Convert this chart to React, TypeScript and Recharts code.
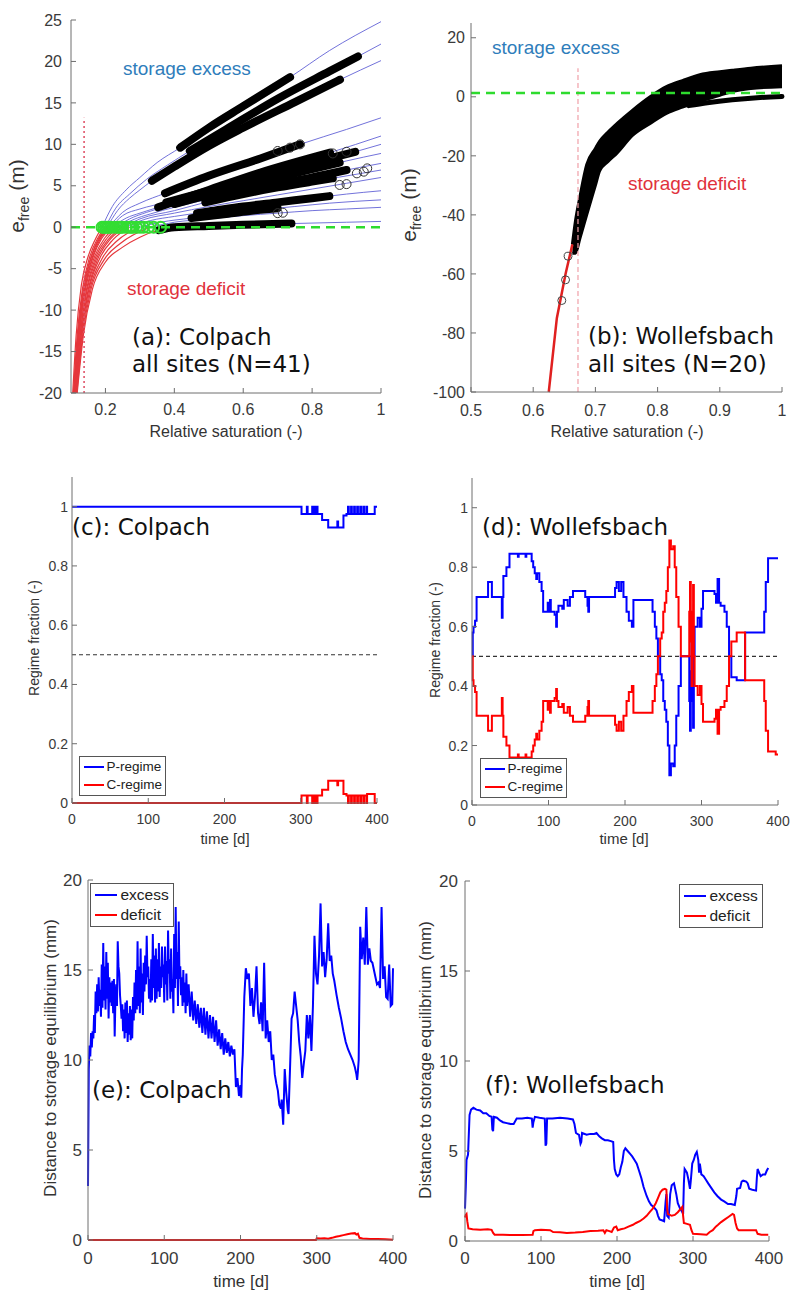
import React from 'react';
import { ComposedChart, Line, Scatter, Area, XAxis, YAxis } from 'recharts';

type Pt = [number, number];
const xy = (pts: Pt[]) => pts.map(([x, y]) => ({ x, y }));

// ---------------- Panel (a): Colpach retention-type curves ----------------
const colpachCurves: Pt[][] = [
  [[0.105,-20],[0.115,-13],[0.13,-7],[0.15,-3.5],[0.17,-1.5],[0.19,0],[0.22,2.5],[0.26,4.5],[0.3,6],[0.35,7.8],[0.417,9.6],[0.5,12],[0.6,14.6],[0.736,18.1],[0.85,21.3],[1,24.8]],
  [[0.107,-20],[0.118,-13],[0.133,-7.5],[0.155,-3.5],[0.178,-1.3],[0.2,0],[0.23,2.3],[0.27,4],[0.32,5.8],[0.38,7.5],[0.445,9.2],[0.55,11.8],[0.7,15.5],[0.85,18.8],[0.933,20.6],[1,22.1]],
  [[0.108,-20],[0.12,-13],[0.135,-7.5],[0.158,-3.6],[0.18,-1.4],[0.205,0],[0.235,2],[0.27,3.5],[0.3,4.5],[0.335,5.6],[0.4,7.3],[0.5,9.8],[0.6,12],[0.75,15.1],[0.881,17.8],[1,20.1]],
  [[0.109,-20],[0.121,-13],[0.137,-7.5],[0.16,-3.5],[0.185,-1.2],[0.21,0],[0.25,1.8],[0.3,2.9],[0.373,4.1],[0.5,6.2],[0.65,8.3],[0.765,10],[0.9,11.8],[1,13.2]],
  [[0.11,-20],[0.123,-13],[0.14,-7.5],[0.165,-3.5],[0.19,-1.3],[0.22,0],[0.26,1.1],[0.3,1.7],[0.353,2.4],[0.5,4.5],[0.65,6.6],[0.852,9],[1,11]],
  [[0.11,-20],[0.122,-13],[0.139,-7.5],[0.163,-3.5],[0.188,-1.2],[0.215,0],[0.25,1.4],[0.3,2.2],[0.377,3],[0.5,4.4],[0.7,6.7],[0.925,9.1],[1,10]],
  [[0.111,-20],[0.124,-13],[0.142,-7.5],[0.168,-3.6],[0.198,-1.3],[0.23,0],[0.27,1],[0.32,1.8],[0.4,2.8],[0.5,3.9],[0.6,5],[0.7,6],[0.8,7],[0.9,8],[1,8.9]],
  [[0.112,-20],[0.126,-13],[0.145,-7.5],[0.172,-3.6],[0.205,-1.3],[0.24,0],[0.28,0.9],[0.33,1.6],[0.4,2.4],[0.5,3.4],[0.6,4.3],[0.7,5.2],[0.8,6],[0.9,6.9],[1,7.7]],
  [[0.113,-20],[0.127,-13],[0.147,-7.5],[0.176,-3.6],[0.21,-1.4],[0.25,0],[0.3,1],[0.4,2],[0.5,3.1],[0.6,4],[0.7,4.8],[0.8,5.5],[0.93,6.4],[1,6.9]],
  [[0.114,-20],[0.129,-13],[0.15,-7.5],[0.18,-3.6],[0.215,-1.4],[0.26,0],[0.31,0.9],[0.4,1.7],[0.5,2.5],[0.6,3.2],[0.7,3.9],[0.8,4.6],[0.9,5.3],[1,6]],
  [[0.115,-20],[0.13,-13],[0.152,-7.5],[0.184,-3.7],[0.222,-1.5],[0.27,0],[0.33,0.8],[0.4,1.3],[0.5,1.9],[0.6,2.5],[0.7,3],[0.8,3.5],[0.9,4],[1,4.4]],
  [[0.116,-20],[0.132,-13],[0.155,-7.5],[0.19,-3.8],[0.235,-1.6],[0.3,0],[0.36,0.6],[0.45,1.1],[0.55,1.6],[0.65,2.1],[0.75,2.5],[0.85,2.9],[1,3.3]],
  [[0.117,-20],[0.134,-13],[0.158,-7.5],[0.195,-4],[0.245,-1.9],[0.33,0],[0.4,0.6],[0.5,1],[0.6,1.4],[0.7,1.7],[0.8,2],[0.9,2.2],[1,2.4]],
  [[0.118,-20],[0.136,-13],[0.162,-7.5],[0.2,-4.2],[0.25,-2.4],[0.3,-1.2],[0.35,-0.4],[0.4,0],[0.5,0.15],[0.6,0.3],[0.75,0.45],[0.9,0.6],[1,0.7]],
];
const colpachBands: Pt[][] = [
  [[0.417,9.6],[0.5,12],[0.6,14.6],[0.736,18.1]],
  [[0.445,9.2],[0.55,11.8],[0.7,15.5],[0.85,18.8],[0.933,20.6]],
  [[0.335,5.6],[0.4,7.3],[0.5,9.8],[0.6,12],[0.75,15.1],[0.881,17.8]],
  [[0.373,4.1],[0.5,6.2],[0.65,8.3],[0.765,10]],
  [[0.353,2.4],[0.5,4.5],[0.65,6.6],[0.852,9]],
  [[0.377,3],[0.5,4.4],[0.7,6.7],[0.925,9.1]],
  [[0.4,2.8],[0.5,3.9],[0.6,5],[0.7,6],[0.8,7],[0.88,7.8]],
  [[0.5,3.4],[0.6,4.3],[0.7,5.2],[0.8,6],[0.9,6.9]],
  [[0.49,3],[0.6,4],[0.7,4.8],[0.8,5.5],[0.86,5.9]],
  [[0.466,1.7],[0.5,1.9],[0.6,2.5],[0.7,3],[0.8,3.5],[0.85,3.75]],
  [[0.45,1.1],[0.55,1.6],[0.65,2.1],[0.7,2.3]],
  [[0.355,-0.35],[0.4,0],[0.5,0.15],[0.6,0.3],[0.74,0.45]],
];
const colpachOpenCircles: Pt[] = [[0.7,9.2],[0.736,9.6],[0.765,10],[0.96,7.1],[0.9,5.2],[0.88,5.1],[0.7,1.7],[0.715,1.75],[0.86,8.9],[0.9,9.1],[0.93,6.5],[0.95,6.7]];
const colpachGreenCircles: Pt[] = [[0.19,0],[0.195,0],[0.2,0],[0.205,0],[0.21,0],[0.215,0],[0.225,0],[0.235,0],[0.24,0],[0.245,0],[0.25,0],[0.26,0],[0.27,0],[0.275,0],[0.28,0],[0.29,0],[0.3,0],[0.31,0],[0.325,0],[0.34,0],[0.36,0]];
const colpachThreshold: Pt[] = [[0.138,-20],[0.138,13.2]];
const colpachZero: Pt[] = [[0.1,0],[1,0]];

// ---------------- Panel (b): Wollefsbach ----------------
const wollBlobX = [0.663,0.668,0.675,0.686,0.7,0.707,0.72,0.735,0.76,0.788,0.815,0.84,0.868,0.9,0.92,0.95,1.0];
const wollBlobHi = [-50,-42,-34,-23,-17.5,-15,-12,-9,-4.5,0,3.5,5.5,7.5,8.5,9,9.7,10.5];
const wollBlobLo = [-53,-53,-48,-40,-30,-25,-22,-19,-13,-9,-5.5,-3.5,-1.5,0.5,1.8,2.8,3.4];
const wollLowerBand: Pt[] = [[0.85,-3],[0.88,-2],[0.92,-1],[0.96,-0.3],[1.0,0.1]];
const wollRedLine: Pt[] = [[0.625,-100],[0.638,-75],[0.652,-60],[0.663,-50]];
const wollOpenCircles: Pt[] = [[0.656,-54],[0.652,-62],[0.646,-69]];
const wollThreshold: Pt[] = [[0.672,-100],[0.672,9.7]];
const wollZero: Pt[] = [[0.5,1.3],[1,1.3]];

// ---------------- Panel (c): Colpach regime fraction ----------------
const colpachP: Pt[] = [[0,1],[300,1],[301,0.975],[307,0.975],[308,1],[309,0.975],[315,1],[316,0.975],[318,1],[319,0.975],[321,1],[322,0.975],[328,0.955],[336,0.93],[347,0.93],[348,0.95],[349,0.93],[354,0.93],[356,0.97],[360,0.975],[362,1],[363,0.975],[366,1],[367,0.975],[370,1],[371,0.975],[374,1],[375,0.975],[378,1],[379,0.975],[382,1],[383,0.975],[386,1],[387,0.975],[396,0.975],[397,1],[400,1]];
const colpachC: Pt[] = [[0,0],[300,0],[301,0.025],[307,0.025],[308,0],[309,0.025],[315,0],[316,0.025],[318,0],[319,0.025],[321,0],[322,0.025],[328,0.045],[336,0.075],[347,0.075],[348,0.06],[349,0.075],[354,0.075],[356,0.03],[360,0.025],[362,0],[363,0.025],[366,0],[367,0.025],[370,0],[371,0.025],[374,0],[375,0.025],[378,0],[379,0.025],[382,0],[383,0.025],[386,0],[387,0.03],[396,0.03],[397,0],[400,0]];

// ---------------- Panel (d): Wollefsbach regime fraction ----------------
const wollP: Pt[] = [[0,0.5],[1,0.58],[2,0.6],[4,0.62],[6,0.7],[19,0.7],[21,0.75],[25,0.75],[26,0.7],[38,0.7],[39,0.63],[40,0.7],[41,0.77],[45,0.8],[49,0.845],[60,0.835],[61,0.845],[70,0.835],[71,0.845],[78,0.82],[80,0.8],[82,0.78],[84,0.76],[85,0.78],[88,0.75],[91,0.72],[93,0.65],[99,0.68],[100,0.65],[102,0.69],[103,0.65],[108,0.64],[110,0.6],[111,0.65],[113,0.67],[118,0.66],[120,0.69],[125,0.67],[128,0.7],[132,0.72],[148,0.7],[151,0.67],[152,0.65],[153,0.7],[187,0.73],[189,0.75],[192,0.72],[195,0.75],[198,0.7],[202,0.65],[205,0.62],[209,0.6],[211,0.69],[233,0.69],[236,0.65],[239,0.6],[241,0.56],[243,0.5],[246,0.44],[248,0.42],[250,0.35],[252,0.32],[254,0.28],[256,0.2],[258,0.1],[260,0.14],[263,0.13],[265,0.2],[267,0.3],[270,0.4],[273,0.5],[283,0.5],[284,0.35],[285,0.25],[286,0.45],[287,0.6],[288,0.35],[289,0.26],[290,0.5],[291,0.6],[295,0.63],[298,0.6],[300,0.66],[302,0.72],[317,0.71],[319,0.68],[321,0.76],[323,0.68],[325,0.67],[330,0.65],[333,0.6],[336,0.5],[339,0.43],[346,0.42],[357,0.58],[380,0.58],[382,0.65],[384,0.75],[387,0.83],[397,0.83],[400,0.83]];
const wollC: Pt[] = [[0,0.5],[1,0.42],[2,0.4],[4,0.38],[6,0.3],[19,0.3],[21,0.25],[25,0.25],[26,0.3],[38,0.3],[39,0.36],[40,0.3],[41,0.23],[45,0.2],[49,0.16],[60,0.17],[61,0.16],[70,0.17],[71,0.16],[78,0.18],[80,0.2],[82,0.22],[84,0.24],[85,0.22],[88,0.25],[91,0.28],[93,0.35],[99,0.32],[100,0.35],[102,0.31],[103,0.35],[108,0.36],[110,0.39],[111,0.35],[113,0.33],[118,0.34],[120,0.31],[125,0.33],[128,0.3],[132,0.28],[148,0.3],[151,0.33],[152,0.35],[153,0.3],[187,0.27],[189,0.25],[192,0.28],[195,0.25],[198,0.3],[202,0.35],[205,0.38],[209,0.4],[211,0.31],[233,0.31],[236,0.35],[239,0.4],[241,0.44],[243,0.5],[246,0.56],[248,0.58],[250,0.65],[252,0.68],[254,0.72],[256,0.8],[258,0.89],[260,0.86],[263,0.87],[265,0.8],[267,0.7],[270,0.6],[273,0.5],[283,0.5],[284,0.65],[285,0.75],[286,0.55],[287,0.4],[288,0.65],[289,0.74],[290,0.5],[291,0.4],[295,0.37],[298,0.4],[300,0.34],[302,0.28],[317,0.29],[319,0.32],[321,0.24],[323,0.32],[325,0.33],[330,0.35],[333,0.4],[336,0.5],[339,0.55],[346,0.58],[357,0.42],[380,0.42],[382,0.35],[384,0.25],[387,0.18],[397,0.17],[400,0.17]];
const halfLine: Pt[] = [[0,0.5],[400,0.5]];

// ---------------- Panel (e): Colpach distance to equilibrium ----------------
const colpachExcess: Pt[] = [[0,3],[1,9.5],[2,10.8],[3,10.2],[4,11.5],[5,10.7],[6,11.6],[7,11.2],[8,12.5],[9,11.5],[10,13.8],[11,12.6],[12,14.2],[13,12.7],[14,14.6],[15,13],[16,13.9],[17,12.4],[18,15.3],[19,12.9],[20,16.5],[21,13.3],[22,15.2],[23,12.8],[24,16],[25,13.4],[26,15.4],[27,12.3],[28,14.6],[29,13.2],[30,14.3],[31,13],[32,14.4],[33,12.6],[34,14.5],[35,11.3],[36,13.5],[37,14.2],[38,13],[39,16.6],[40,15.2],[41,14.8],[42,13.6],[43,13],[44,12.3],[45,13.1],[46,11.6],[47,12.8],[48,11.2],[49,13.2],[50,11.5],[51,13.3],[52,11],[53,12.6],[54,11.4],[55,13],[56,11.1],[57,12.8],[58,11.2],[59,13.5],[60,12.2],[61,14.3],[62,12.6],[63,15],[64,12.8],[65,16.6],[66,13],[67,15.2],[68,12.6],[69,16.2],[70,13.2],[71,14.8],[72,12.5],[73,15.4],[74,13.8],[75,15.8],[76,14.2],[77,16.9],[78,14.6],[79,15.2],[80,13.4],[81,14.5],[82,13.2],[83,15.6],[84,13.3],[85,17],[86,14],[87,15.8],[88,13.2],[89,16.2],[90,13.4],[91,15.6],[92,13.8],[93,16.5],[94,13.5],[95,15.2],[96,14],[97,16.3],[98,14.6],[99,15.3],[100,13.2],[101,16.3],[102,14.2],[103,15.5],[104,13.3],[105,17.2],[106,14.8],[107,15.6],[108,13.4],[109,16.2],[110,13.8],[111,14.5],[112,12.6],[113,17],[114,14],[115,18.5],[116,14.5],[117,16],[118,13],[119,17.7],[120,14.5],[121,15.2],[122,13.6],[123,14.6],[124,13],[125,15],[126,13.2],[127,14.3],[128,12.6],[129,14.8],[130,13],[132,14.2],[134,12.4],[136,13.8],[138,12.2],[140,13.3],[142,12],[144,13.1],[146,11.8],[148,12.9],[150,11.5],[152,12.9],[154,11.4],[156,12.7],[158,11.2],[160,12.5],[162,11.2],[164,12.4],[166,11],[168,12.2],[170,10.8],[172,11.7],[174,10.6],[176,11.5],[178,10.3],[180,11.2],[182,10.4],[184,11],[186,10.2],[188,10.8],[190,10.3],[192,10.6],[194,8.5],[196,9],[198,8],[200,8.6],[201,7.9],[202,9.5],[203,10.3],[205,13.5],[207,15.1],[209,14.5],[211,14.8],[213,13],[215,14],[217,12.4],[219,13.5],[221,15.2],[223,12.6],[225,12],[227,13.2],[229,11.6],[231,15.4],[233,11.2],[235,12.2],[237,11],[239,11.6],[241,10],[243,10.3],[245,9.2],[247,8.7],[249,8.3],[251,7.5],[253,7.3],[254,7.8],[256,6.4],[258,9.5],[260,8.2],[262,7.2],[263,7],[265,9.6],[267,12.3],[269,12.6],[271,13.8],[273,13],[275,12.2],[277,11],[279,10.2],[281,9],[283,9.8],[285,10.5],[287,12.5],[289,11.2],[291,12.5],[293,10.5],[295,13],[297,16.9],[299,14.8],[301,14.2],[303,15.8],[305,18.7],[307,15.2],[309,16],[311,14.6],[313,15.6],[315,17.6],[317,15.5],[319,15.8],[321,14.8],[323,14.4],[326,13.6],[329,12.9],[332,12.3],[335,11.6],[338,11],[341,10.6],[344,10.3],[347,10],[350,9.6],[352,9.2],[353,8.9],[354,9.4],[355,10],[357,17.4],[359,15.6],[361,16.8],[363,15.3],[365,18.5],[367,15.3],[369,16.2],[371,15.5],[373,15.4],[375,15],[377,14.6],[379,14.2],[381,14.3],[383,14],[385,18.5],[387,14.5],[389,15.2],[391,13.5],[393,13.4],[395,15.3],[397,13],[399,13.1],[400,15.1]];
const colpachDeficit: Pt[] = [[0,0],[299,0],[300,0.1],[305,0.08],[310,0.1],[315,0.07],[320,0.12],[325,0.18],[330,0.22],[335,0.27],[340,0.32],[345,0.36],[350,0.38],[352,0.3],[354,0.35],[356,0.12],[360,0.08],[370,0.05],[380,0.06],[390,0.04],[400,0.02]];

// ---------------- Panel (f): Wollefsbach distance to equilibrium ----------------
const wollExcess: Pt[] = [[0,1.8],[1,3],[2,4.5],[4,4.8],[6,7],[8,7.3],[11,7.4],[15,7.3],[20,7.25],[24,7.1],[28,7.1],[32,6.95],[35,6.9],[36,6.2],[37,6.1],[38,6.9],[42,6.85],[46,6.7],[50,6.6],[55,6.55],[60,6.5],[64,6.5],[68,6.8],[75,6.8],[82,6.85],[88,6.8],[89,6.3],[90,6.6],[92,6.9],[98,6.85],[105,6.8],[106,5.3],[107,5.4],[108,6.8],[115,6.8],[125,6.85],[135,6.8],[142,6.75],[144,6.5],[146,6],[150,5.9],[152,5.4],[153,5.5],[154,6],[160,5.9],[165,5.95],[170,5.95],[173,6],[177,5.8],[180,5.7],[184,5.6],[188,5.6],[192,5.55],[195,5.5],[196,4.5],[197,4],[199,3.7],[201,3.6],[203,3.7],[205,4.1],[207,4.4],[209,5],[211,5.15],[214,5],[217,4.85],[220,4.7],[223,4.5],[226,4.3],[229,3.9],[232,3.5],[235,3],[239,2.5],[242,2.2],[245,2],[248,1.9],[252,1.7],[254,1.4],[256,1.2],[259,1.15],[262,1.1],[264,2.2],[265,2.6],[266,1.4],[268,1.3],[270,2.6],[272,3.1],[275,3.2],[278,2.6],[280,2.1],[283,1.8],[286,1.6],[287,1.5],[288,3.2],[289,4],[292,3.8],[294,3.4],[296,2.9],[297,3.3],[299,4.3],[301,4.5],[303,4.8],[305,4.95],[307,4.5],[308,3.8],[309,4.3],[311,3.7],[314,3.6],[317,3.4],[320,3.2],[324,2.95],[328,2.7],[332,2.5],[337,2.3],[341,2.2],[346,2.05],[350,2.05],[355,2],[357,2.5],[358,2.9],[362,2.95],[364,3.3],[366,3.35],[370,3.3],[372,3.2],[374,2.9],[378,2.85],[383,2.8],[384,3.5],[385,4],[387,3.8],[389,3.6],[392,3.7],[395,3.7],[397,3.9],[399,4.05]];
const wollDeficit: Pt[] = [[0,1.3],[1,1.45],[2,1.5],[3,1.1],[4.5,0.7],[10,0.65],[20,0.62],[30,0.65],[35,0.62],[37,0.45],[39,0.35],[50,0.35],[60,0.33],[75,0.33],[89,0.35],[90,0.55],[92,0.6],[100,0.62],[112,0.6],[116,0.5],[125,0.48],[134,0.45],[145,0.47],[155,0.5],[165,0.55],[175,0.57],[182,0.6],[184,0.45],[186,0.6],[190,0.55],[193,0.5],[196,0.75],[199,0.8],[201,0.6],[205,0.65],[210,0.7],[215,0.8],[221,0.9],[225,1],[230,1.1],[235,1.25],[239,1.4],[243,1.6],[247,1.8],[251,2.1],[254,2.4],[257,2.7],[260,2.85],[263,2.9],[265,2.85],[266,1.8],[267,1.5],[272,1.4],[276,1.45],[280,1.6],[284,1.8],[286,1.9],[287,1.4],[288,1],[292,0.95],[296,0.9],[298,0.6],[300,0.4],[310,0.38],[318,0.35],[322,0.5],[326,0.6],[330,0.8],[333,0.9],[337,1.05],[342,1.2],[347,1.35],[352,1.5],[354,1.45],[356,1],[358,0.7],[360,0.6],[370,0.6],[383,0.6],[385,0.4],[390,0.35],[399,0.35]];

// ---------------- Tick labels ----------------
const satTicksA = [0.2, 0.4, 0.6, 0.8, 1];
const efreeTicksA = [-20, -15, -10, -5, 0, 5, 10, 15, 20, 25];
const satTicksB = [0.5, 0.6, 0.7, 0.8, 0.9, 1];
const efreeTicksB = [-100, -80, -60, -40, -20, 0, 20];
const timeTicks = [0, 100, 200, 300, 400];
const fracTicks = [0, 0.2, 0.4, 0.6, 0.8, 1];
const fracMinor = [0, 0.1, 0.2, 0.3, 0.4, 0.5, 0.6, 0.7, 0.8, 0.9, 1, 1.1];
const distTicks = [0, 5, 10, 15, 20];
const distMinor = [0,1,2,3,4,5,6,7,8,9,10,11,12,13,14,15,16,17,18,19,20];

// ---------------- layout helpers ----------------
const YW = 60, MT = 10, MR = 22, XH = 40;
const AX = '#6e6e6e';
const TICK_FONT = 'Liberation Sans, Arial, sans-serif';
const LABEL_FONT = 'DejaVu Sans, Verdana, sans-serif';

const fmtDec = (v: number) => (v === 0 ? '0' : v === 1 ? '1' : Number.isInteger(v) ? String(v) : v.toFixed(1));

type Box = { x0: number; y0: number; x1: number; y1: number };
type AxisCfg = {
  xDomain: [number, number]; yDomain: [number, number];
  xTicks: number[]; yTicks: number[]; yMinor?: number[];
  fs: number; xMargin: number; yMargin: number;
};

function axes(c: AxisCfg) {
  const tickStyle = { fill: '#3a3a3a', fontSize: c.fs, fontFamily: TICK_FONT };
  return [
    <XAxis key="xb" type="number" dataKey="x" domain={c.xDomain} ticks={c.xTicks} interval={0}
      tickSize={-5} tickMargin={c.xMargin} tick={tickStyle} tickFormatter={fmtDec}
      axisLine={{ stroke: AX }} tickLine={{ stroke: AX }} height={XH} />,
    <YAxis key="yl" type="number" dataKey="y" domain={c.yDomain} ticks={c.yTicks} interval={0}
      tickSize={-5} tickMargin={c.yMargin} tick={tickStyle} tickFormatter={fmtDec}
      axisLine={{ stroke: AX }} tickLine={{ stroke: AX }} width={YW} />,
    <XAxis key="xt" xAxisId="t" orientation="top" type="number" domain={c.xDomain} ticks={c.xTicks} interval={0} allowDataOverflow
      tickSize={-5} tick={false} axisLine={{ stroke: AX }} tickLine={{ stroke: AX }} height={0} />,
    <YAxis key="yr" yAxisId="r" orientation="right" type="number" domain={c.yDomain} ticks={c.yMinor || c.yTicks} interval={0} allowDataOverflow
      tickSize={c.yMinor ? -3 : -5} tick={false} axisLine={{ stroke: AX }} tickLine={{ stroke: AX }} width={0} />,
  ];
}

function Panel({ box, cfg, children }: { box: Box; cfg: AxisCfg; children: React.ReactNode }) {
  const width = box.x1 - box.x0 + YW + MR;
  const height = box.y1 - box.y0 + MT + XH;
  return (
    <div style={{ position: 'absolute', left: box.x0 - YW, top: box.y0 - MT }}>
      <ComposedChart width={width} height={height} margin={{ top: MT, right: MR, left: 0, bottom: 0 }}>
        {axes(cfg)}
        {children}
      </ComposedChart>
    </div>
  );
}

function Txt({ x, y, fs, color, font, children }: { x: number; y: number; fs: number; color: string; font: string; children: React.ReactNode }) {
  return (
    <div style={{ position: 'absolute', left: x, top: y, fontSize: fs, color, fontFamily: font, lineHeight: 1, whiteSpace: 'nowrap' }}>
      {children}
    </div>
  );
}
function HLabel({ cx, cy, fs, children }: { cx: number; cy: number; fs: number; children: React.ReactNode }) {
  return (
    <div style={{ position: 'absolute', left: cx, top: cy, transform: 'translate(-50%,-50%)', fontSize: fs, color: '#333', fontFamily: TICK_FONT, lineHeight: 1, whiteSpace: 'nowrap' }}>
      {children}
    </div>
  );
}
function VLabel({ cx, cy, fs, children }: { cx: number; cy: number; fs: number; children: React.ReactNode }) {
  return (
    <div style={{ position: 'absolute', left: cx, top: cy, transform: 'translate(-50%,-50%) rotate(-90deg)', fontSize: fs, color: '#333', fontFamily: TICK_FONT, lineHeight: 1, whiteSpace: 'nowrap' }}>
      {children}
    </div>
  );
}
function LegendBox({ x, y, w, h, fs, items }: { x: number; y: number; w: number; h: number; fs: number; items: { label: string; color: string }[] }) {
  return (
    <div style={{ position: 'absolute', left: x, top: y, width: w, height: h, border: '1px solid #555', background: '#fff', boxSizing: 'border-box', display: 'flex', flexDirection: 'column', justifyContent: 'space-around', padding: '1px 0' }}>
      {items.map((it) => (
        <div key={it.label} style={{ display: 'flex', alignItems: 'center', fontSize: fs, fontFamily: TICK_FONT, color: '#222', lineHeight: 1 }}>
          <span style={{ display: 'inline-block', width: fs * 1.45, height: 2, background: it.color, marginLeft: 4, marginRight: 3 }} />
          {it.label}
        </div>
      ))}
    </div>
  );
}

const openCircle = (stroke: string, r: number, sw: number) => (props: any) =>
  <circle cx={props.cx} cy={props.cy} r={r} fill="none" stroke={stroke} strokeWidth={sw} />;

export default function App() {
  const boxA: Box = { x0: 71, y0: 20, x1: 381, y1: 393 };
  const boxB: Box = { x0: 471, y0: 23, x1: 782, y1: 392 };
  const boxC: Box = { x0: 72, y0: 477, x1: 377, y1: 803 };
  const boxD: Box = { x0: 472, y0: 478, x1: 778, y1: 805 };
  const boxE: Box = { x0: 88, y0: 880, x1: 393, y1: 1240 };
  const boxF: Box = { x0: 465, y0: 881, x1: 769, y1: 1241 };

  const cfgA: AxisCfg = { xDomain: [0.1, 1], yDomain: [-20, 25], xTicks: satTicksA, yTicks: efreeTicksA, fs: 16, xMargin: 16, yMargin: 14 };
  const cfgB: AxisCfg = { xDomain: [0.5, 1], yDomain: [-100, 25], xTicks: satTicksB, yTicks: efreeTicksB, fs: 16, xMargin: 18, yMargin: 11 };
  const cfgC: AxisCfg = { xDomain: [0, 400], yDomain: [0, 1.1], xTicks: timeTicks, yTicks: fracTicks, yMinor: fracMinor, fs: 14, xMargin: 16, yMargin: 9 };
  const cfgE: AxisCfg = { xDomain: [0, 400], yDomain: [0, 20], xTicks: timeTicks, yTicks: distTicks, yMinor: distMinor, fs: 17, xMargin: 17, yMargin: 11 };
  const cfgF: AxisCfg = { ...cfgE, xMargin: 16, yMargin: 12 };

  const curveRed = '#e5373c';
  const curveBlue = '#6262d6';

  const blobData = wollBlobX.map((x, i) => ({ x, r: [wollBlobLo[i], wollBlobHi[i]] }));

  return (
    <div style={{ position: 'absolute', left: 0, top: 0, width: 792, height: 1292, background: '#fff', overflow: 'hidden' }}>
      {/* (a) */}
      <Panel box={boxA} cfg={cfgA}>
        {colpachCurves.map((c, i) => (
          <Line key={'ar' + i} data={xy(c.filter((p) => p[1] <= 0))} dataKey="y" type="monotone" stroke={curveRed} strokeWidth={1.2} dot={false} isAnimationActive={false} />
        ))}
        {colpachCurves.map((c, i) => (
          <Line key={'ab' + i} data={xy(c.filter((p) => p[1] >= 0))} dataKey="y" type="monotone" stroke={curveBlue} strokeWidth={0.9} dot={false} isAnimationActive={false} />
        ))}
        {colpachBands.map((b, i) => (
          <Line key={'abd' + i} data={xy(b)} dataKey="y" type="monotone" stroke="#000" strokeWidth={8} strokeLinecap="round" dot={false} isAnimationActive={false} />
        ))}
        <Scatter key="aoc" data={xy(colpachOpenCircles)} dataKey="y" shape={openCircle('#333', 4.5, 1)} isAnimationActive={false} />
        <Line key="athr" data={xy(colpachThreshold)} dataKey="y" type="linear" stroke="#e0556a" strokeWidth={1.6} strokeDasharray="2 3" dot={false} isAnimationActive={false} />
        <Line key="azero" data={xy(colpachZero)} dataKey="y" type="linear" stroke="#2edb2e" strokeWidth={2.5} strokeDasharray="9 6" dot={false} isAnimationActive={false} />
        <Scatter key="agc" data={xy(colpachGreenCircles)} dataKey="y" shape={openCircle('#33dd33', 5.5, 2)} isAnimationActive={false} />
      </Panel>

      {/* (b) */}
      <Panel box={boxB} cfg={cfgB}>
        <Area key="bblob" data={blobData} dataKey="r" type="monotone" stroke="#000" strokeWidth={3} fill="#000" fillOpacity={1} isAnimationActive={false} />
        <Line key="blow" data={xy(wollLowerBand)} dataKey="y" type="monotone" stroke="#000" strokeWidth={5} strokeLinecap="round" dot={false} isAnimationActive={false} />
        <Line key="bred" data={xy(wollRedLine)} dataKey="y" type="linear" stroke="#e02020" strokeWidth={2.5} dot={false} isAnimationActive={false} />
        <Scatter key="boc" data={xy(wollOpenCircles)} dataKey="y" shape={openCircle('#444', 4, 1)} isAnimationActive={false} />
        <Line key="bthr" data={xy(wollThreshold)} dataKey="y" type="linear" stroke="#f0a0a8" strokeWidth={1.2} strokeDasharray="5 3" dot={false} isAnimationActive={false} />
        <Line key="bzero" data={xy(wollZero)} dataKey="y" type="linear" stroke="#2edb2e" strokeWidth={2.5} strokeDasharray="9 6" dot={false} isAnimationActive={false} />
      </Panel>

      {/* (c) */}
      <Panel box={boxC} cfg={cfgC}>
        <Line key="chalf" data={xy(halfLine)} dataKey="y" type="linear" stroke="#333" strokeWidth={1.1} strokeDasharray="4 3" dot={false} isAnimationActive={false} />
        <Line key="cp" data={xy(colpachP)} dataKey="y" type="stepAfter" stroke="#0000ff" strokeWidth={2} dot={false} isAnimationActive={false} />
        <Line key="cc" data={xy(colpachC)} dataKey="y" type="stepAfter" stroke="#ff0000" strokeWidth={2} dot={false} isAnimationActive={false} />
      </Panel>

      {/* (d) */}
      <Panel box={boxD} cfg={cfgC}>
        <Line key="dhalf" data={xy(halfLine)} dataKey="y" type="linear" stroke="#333" strokeWidth={1.1} strokeDasharray="4 3" dot={false} isAnimationActive={false} />
        <Line key="dp" data={xy(wollP)} dataKey="y" type="stepAfter" stroke="#0000ff" strokeWidth={2} dot={false} isAnimationActive={false} />
        <Line key="dc" data={xy(wollC)} dataKey="y" type="stepAfter" stroke="#ff0000" strokeWidth={2} dot={false} isAnimationActive={false} />
      </Panel>

      {/* (e) */}
      <Panel box={boxE} cfg={cfgE}>
        <Line key="ee" data={xy(colpachExcess)} dataKey="y" type="linear" stroke="#0000ff" strokeWidth={2} dot={false} isAnimationActive={false} />
        <Line key="ed" data={xy(colpachDeficit)} dataKey="y" type="linear" stroke="#ff0000" strokeWidth={2} dot={false} isAnimationActive={false} />
      </Panel>

      {/* (f) */}
      <Panel box={boxF} cfg={cfgF}>
        <Line key="fe" data={xy(wollExcess)} dataKey="y" type="linear" stroke="#0000ff" strokeWidth={2} dot={false} isAnimationActive={false} />
        <Line key="fd" data={xy(wollDeficit)} dataKey="y" type="linear" stroke="#ff0000" strokeWidth={2} dot={false} isAnimationActive={false} />
      </Panel>

      {/* annotations (a) */}
      <Txt x={123} y={59} fs={19} color="#2f7dbb" font={TICK_FONT}>storage excess</Txt>
      <Txt x={127} y={279} fs={19} color="#e0323c" font={TICK_FONT}>storage deficit</Txt>
      <Txt x={132} y={326} fs={23} color="#111" font={LABEL_FONT}>(a): Colpach</Txt>
      <Txt x={132} y={353} fs={23} color="#111" font={LABEL_FONT}>all sites (N=41)</Txt>
      <VLabel cx={19} cy={196} fs={21}>e<sub style={{ fontSize: '68%' }}>free</sub> (m)</VLabel>
      <HLabel cx={226} cy={432} fs={16}>Relative saturation (-)</HLabel>

      {/* annotations (b) */}
      <Txt x={492} y={38} fs={19} color="#2f7dbb" font={TICK_FONT}>storage excess</Txt>
      <Txt x={628} y={174} fs={19} color="#e0323c" font={TICK_FONT}>storage deficit</Txt>
      <Txt x={588} y={325} fs={23} color="#111" font={LABEL_FONT}>(b): Wollefsbach</Txt>
      <Txt x={588} y={353} fs={23} color="#111" font={LABEL_FONT}>all sites (N=20)</Txt>
      <VLabel cx={411} cy={205} fs={21}>e<sub style={{ fontSize: '68%' }}>free</sub> (m)</VLabel>
      <HLabel cx={627} cy={432} fs={16}>Relative saturation (-)</HLabel>

      {/* annotations (c) */}
      <Txt x={72} y={516} fs={23} color="#111" font={LABEL_FONT}>(c): Colpach</Txt>
      <VLabel cx={34} cy={638} fs={14}>Regime fraction (-)</VLabel>
      <HLabel cx={225} cy={838} fs={15}>time [d]</HLabel>
      <LegendBox x={79} y={756} w={87} h={40} fs={13.5} items={[{ label: 'P-regime', color: '#0000ff' }, { label: 'C-regime', color: '#ff0000' }]} />

      {/* annotations (d) */}
      <Txt x={482} y={516} fs={23} color="#111" font={LABEL_FONT}>(d): Wollefsbach</Txt>
      <VLabel cx={435} cy={640} fs={14}>Regime fraction (-)</VLabel>
      <HLabel cx={624} cy={838} fs={15}>time [d]</HLabel>
      <LegendBox x={480} y={758} w={87} h={40} fs={13.5} items={[{ label: 'P-regime', color: '#0000ff' }, { label: 'C-regime', color: '#ff0000' }]} />

      {/* annotations (e) */}
      <Txt x={92} y={1079} fs={23} color="#111" font={LABEL_FONT}>(e): Colpach</Txt>
      <VLabel cx={50} cy={1058} fs={17}>Distance to storage equilibrium (mm)</VLabel>
      <HLabel cx={241} cy={1281} fs={17}>time [d]</HLabel>
      <LegendBox x={90} y={883} w={84} h={44} fs={15.5} items={[{ label: 'excess', color: '#0000ff' }, { label: 'deficit', color: '#ff0000' }]} />

      {/* annotations (f) */}
      <Txt x={485} y={1074} fs={23} color="#111" font={LABEL_FONT}>(f): Wollefsbach</Txt>
      <VLabel cx={425} cy={1060} fs={17}>Distance to storage equilibrium (mm)</VLabel>
      <HLabel cx={617} cy={1281} fs={17}>time [d]</HLabel>
      <LegendBox x={679} y={884} w={84} h={44} fs={15.5} items={[{ label: 'excess', color: '#0000ff' }, { label: 'deficit', color: '#ff0000' }]} />
    </div>
  );
}
